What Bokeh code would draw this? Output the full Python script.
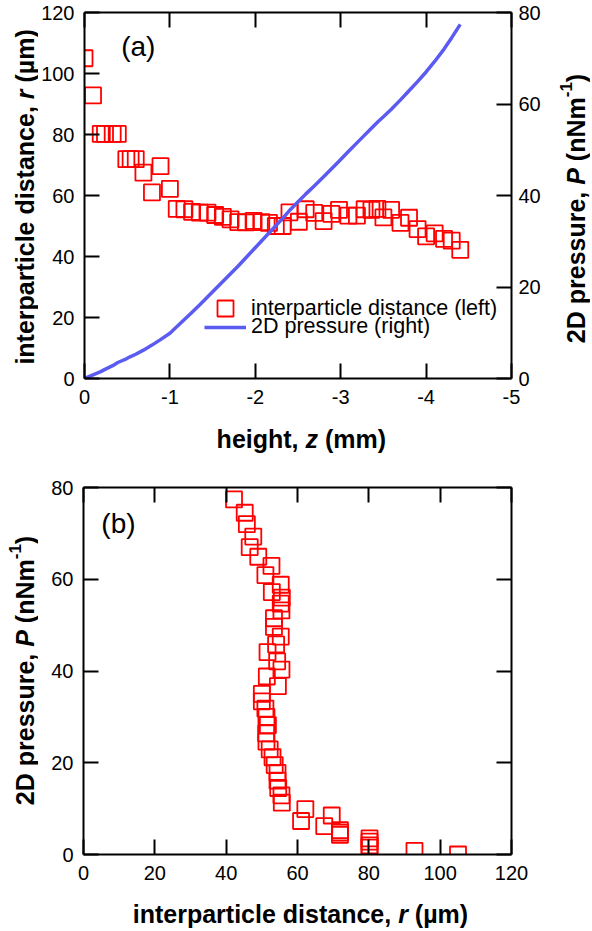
import math
from bokeh.plotting import figure
from bokeh.models import (ColumnDataSource, Range1d, LinearAxis, FixedTicker,
                          Label, Legend, LegendItem)
from bokeh.layouts import column, row
from bokeh.embed import file_html
from bokeh.resources import INLINE

# ---------------- data ----------------
z_mm = [0.00, -0.10, -0.19, -0.24, -0.33, -0.39, -0.49, -0.54, -0.60, -0.69,
        -0.79, -0.89, -1.00, -1.08, -1.17, -1.26, -1.35, -1.44, -1.53, -1.62,
        -1.71, -1.80, -1.89, -1.98, -2.07, -2.16, -2.24, -2.32, -2.40, -2.51,
        -2.59, -2.69, -2.80, -2.89, -2.98, -3.09, -3.19, -3.28, -3.36, -3.43,
        -3.50, -3.59, -3.70, -3.80, -3.90, -4.00, -4.10, -4.21, -4.30, -4.40]
r_um = [105.0, 92.8, 80.2, 80.2, 80.2, 80.2, 71.9, 71.9, 71.9, 67.5,
        61.0, 69.6, 62.2, 55.6, 55.5, 54.6, 54.4, 54.4, 53.6, 53.0,
        52.2, 51.3, 51.2, 51.7, 51.3, 51.0, 50.0, 50.0, 54.5, 51.4,
        55.5, 54.3, 51.6, 54.0, 55.3, 53.4, 53.4, 55.5, 55.3, 55.6,
        52.8, 55.3, 51.0, 52.7, 49.0, 46.6, 47.6, 45.8, 45.2, 42.2]
p_nnm = [0.0, 0.8, 1.5, 2.0, 2.8, 3.5, 4.3, 4.8, 5.3, 6.2,
         7.3, 8.5, 9.9, 11.3, 12.9, 14.5, 16.1, 17.8, 19.5, 21.2,
         22.9, 24.6, 26.4, 28.2, 30.0, 31.8, 33.4, 35.0, 36.7, 38.8,
         40.3, 42.1, 44.1, 45.8, 47.5, 49.6, 51.5, 53.2, 54.7, 56.0,
         57.2, 58.8, 60.9, 62.9, 64.9, 67.0, 69.3, 72.0, 74.5, 77.4]

z_ticks = [0, -1, -2, -3, -4, -5]
z_tick_labels = ["0", "-1", "-2", "-3", "-4", "-5"]
r_ticks = [0, 20, 40, 60, 80, 100, 120]
p_ticks = [0, 20, 40, 60, 80]

legend_r = "interparticle distance (left)"
legend_p = "2D pressure (right)"

FONT = "Liberation Sans"
RED = "#ff0000"
BLUE = "#5b5bf2"

src = ColumnDataSource(dict(z=z_mm, r=r_um, p=p_nnm))

# Arial/Liberation Sans Bold advance widths (per 1000 em)
BW = {'a': 556, 'b': 611, 'c': 556, 'd': 611, 'e': 556, 'f': 333, 'g': 611,
      'h': 611, 'i': 278, 'l': 278, 'm': 889, 'n': 611, 'p': 611, 'r': 389,
      's': 556, 't': 333, 'u': 611, 'z': 500, ' ': 278, ',': 278, '(': 333,
      ')': 333, 'µ': 611, 'N': 722, 'D': 722, '2': 556, 'P': 667, '-': 333,
      '1': 556}
TSIZE = 25
SUP = 0.68


def tw(s, size):
    return sum(BW.get(c, 556) for c in s) * size / 1000.0


def style_axis(ax, labels=True, standoff=10):
    ax.axis_line_width = 2
    ax.axis_line_color = "black"
    ax.major_tick_line_width = 2
    ax.major_tick_line_color = "black"
    ax.major_tick_in = 15
    ax.major_tick_out = 0
    ax.minor_tick_line_color = None
    ax.major_label_text_font = FONT
    if labels:
        ax.major_label_text_color = "black"
        ax.major_label_text_font_size = "20px"
        ax.major_label_standoff = standoff
    else:
        ticks = ax.ticker.ticks
        ax.major_label_overrides = {t: "" for t in ticks}
        ax.major_label_text_color = None
        ax.major_label_text_font_size = "0px"
        ax.major_label_standoff = 0


def strip(w, h):
    s = figure(width=w, height=h, x_range=Range1d(0, w), y_range=Range1d(h, 0),
               x_axis_type=None, y_axis_type=None, output_backend="svg",
               toolbar_location=None, min_border_left=0, min_border_right=0,
               min_border_top=0, min_border_bottom=0)
    s.outline_line_color = None
    s.background_fill_color = "white"
    s.border_fill_color = "white"
    return s


def add_title(p, parts, x, y, vertical, size=TSIZE):
    # (x, y): centre of the whole title; each part is a separate Label
    widths = []
    for t, kind in parts:
        s = size * SUP if kind == "sup" else size
        widths.append(tw(t, s))
    total = sum(widths)
    pos = -total / 2.0
    for (t, kind), w in zip(parts, widths):
        s = size * SUP if kind == "sup" else size
        rise = size * 0.40 if kind == "sup" else 0
        style = "bold italic" if kind == "italic" else "bold"
        lead = tw(t[:len(t) - len(t.lstrip())], s)
        start = pos + lead
        if vertical:
            xo, yo, ang = -rise, start, math.pi / 2
        else:
            xo, yo, ang = start, rise, 0
        p.add_layout(Label(x=x, y=y, x_offset=xo, y_offset=yo, angle=ang,
                           text=t.strip(), text_font=FONT, text_font_size=f"{s:.1f}px",
                           text_font_style=style, text_color="black",
                           text_align="left", text_baseline="middle"))
        pos += w


title_r = [("interparticle distance, ", "bold"), ("r", "italic"), (" (µm)", "bold")]
title_p = [("2D pressure, ", "bold"), ("P", "italic"), (" (nNm", "bold"),
           ("-1", "sup"), (")", "bold")]
title_z = [("height, ", "bold"), ("z", "italic"), (" (mm)", "bold")]


def base_fig(xr, yr, h, top):
    f = figure(width=510, height=h, x_range=xr, y_range=yr,
               x_axis_type=None, y_axis_type=None, output_backend="svg",
               toolbar_location=None, min_border_left=45, min_border_right=37,
               min_border_top=top, min_border_bottom=40)
    f.outline_line_color = None
    f.background_fill_color = "white"
    f.border_fill_color = "white"
    return f


# ---------------- (a) ----------------
p1 = base_fig(Range1d(0, -5), Range1d(0, 120), 418, 12)
p1.extra_y_ranges = {"p": Range1d(0, 80)}

ax = LinearAxis(ticker=FixedTicker(ticks=z_ticks))
style_axis(ax, True, 11)
ax.major_label_overrides = dict(zip(z_ticks, z_tick_labels))
p1.add_layout(ax, "below")
ax = LinearAxis(ticker=FixedTicker(ticks=z_ticks)); style_axis(ax, False); p1.add_layout(ax, "above")
ax = LinearAxis(ticker=FixedTicker(ticks=r_ticks)); style_axis(ax, True, 10); p1.add_layout(ax, "left")
ax = LinearAxis(ticker=FixedTicker(ticks=p_ticks), y_range_name="p"); style_axis(ax, True, 7)
p1.add_layout(ax, "right")

sc1 = p1.scatter(x="z", y="r", source=src, marker="square", size=16,
                 line_color=RED, fill_color=None, line_width=1.8)
ln1 = p1.line(x="z", y="p", source=src, y_range_name="p", line_color=BLUE,
              line_width=3.5)

leg1 = Legend(items=[LegendItem(label=legend_r, renderers=[sc1])], location=(120, 50),
              glyph_width=42, glyph_height=40, label_height=40)
leg2 = Legend(items=[LegendItem(label=legend_p, renderers=[ln1])], location=(120, 39),
              glyph_width=42, glyph_height=24, label_height=24)
for lg in (leg1, leg2):
    lg.padding = 0
    lg.spacing = 0
    lg.margin = 0
    lg.border_line_color = None
    lg.background_fill_alpha = 0
    lg.label_standoff = 5
    lg.label_text_font = FONT
    lg.label_text_font_size = "21.5px"
    lg.label_text_color = "black"
    p1.add_layout(lg)

p1.add_layout(Label(x=-0.43, y=108.9, text="(a)", text_font=FONT, text_font_size="28px",
                    text_align="left", text_baseline="middle", text_color="black"))

a_left = strip(38, 470)
add_title(a_left, title_r, 24.5, 196, True)
a_right = strip(42, 470)
add_title(a_right, title_p, 27, 208, True)
a_bottom = strip(510, 52)
add_title(a_bottom, title_z, 259, 20, False)

# ---------------- (b) ----------------
p2 = base_fig(Range1d(0, 120), Range1d(0, 80), 424, 17)

ax = LinearAxis(ticker=FixedTicker(ticks=r_ticks)); style_axis(ax, True, 11); p2.add_layout(ax, "below")
ax = LinearAxis(ticker=FixedTicker(ticks=r_ticks)); style_axis(ax, False); p2.add_layout(ax, "above")
ax = LinearAxis(ticker=FixedTicker(ticks=p_ticks)); style_axis(ax, True, 10); p2.add_layout(ax, "left")
ax = LinearAxis(ticker=FixedTicker(ticks=p_ticks)); style_axis(ax, False); p2.add_layout(ax, "right")

p2.scatter(x="r", y="p", source=src, marker="square", size=16,
           line_color=RED, fill_color=None, line_width=1.8)

p2.add_layout(Label(x=5.0, y=72.2, text="(b)", text_font=FONT, text_font_size="28px",
                    text_align="left", text_baseline="middle", text_color="black"))

b_left = strip(38, 458)
add_title(b_left, title_p, 24.5, 200, True)
b_bottom = strip(510, 34)
add_title(b_bottom, title_r, 259, 19, False)

layout = column(
    row(a_left, column(p1, a_bottom, spacing=0), a_right, spacing=0),
    row(b_left, column(p2, b_bottom, spacing=0), spacing=0),
    spacing=0)
open("out.html", "w").write(file_html(layout, INLINE))
